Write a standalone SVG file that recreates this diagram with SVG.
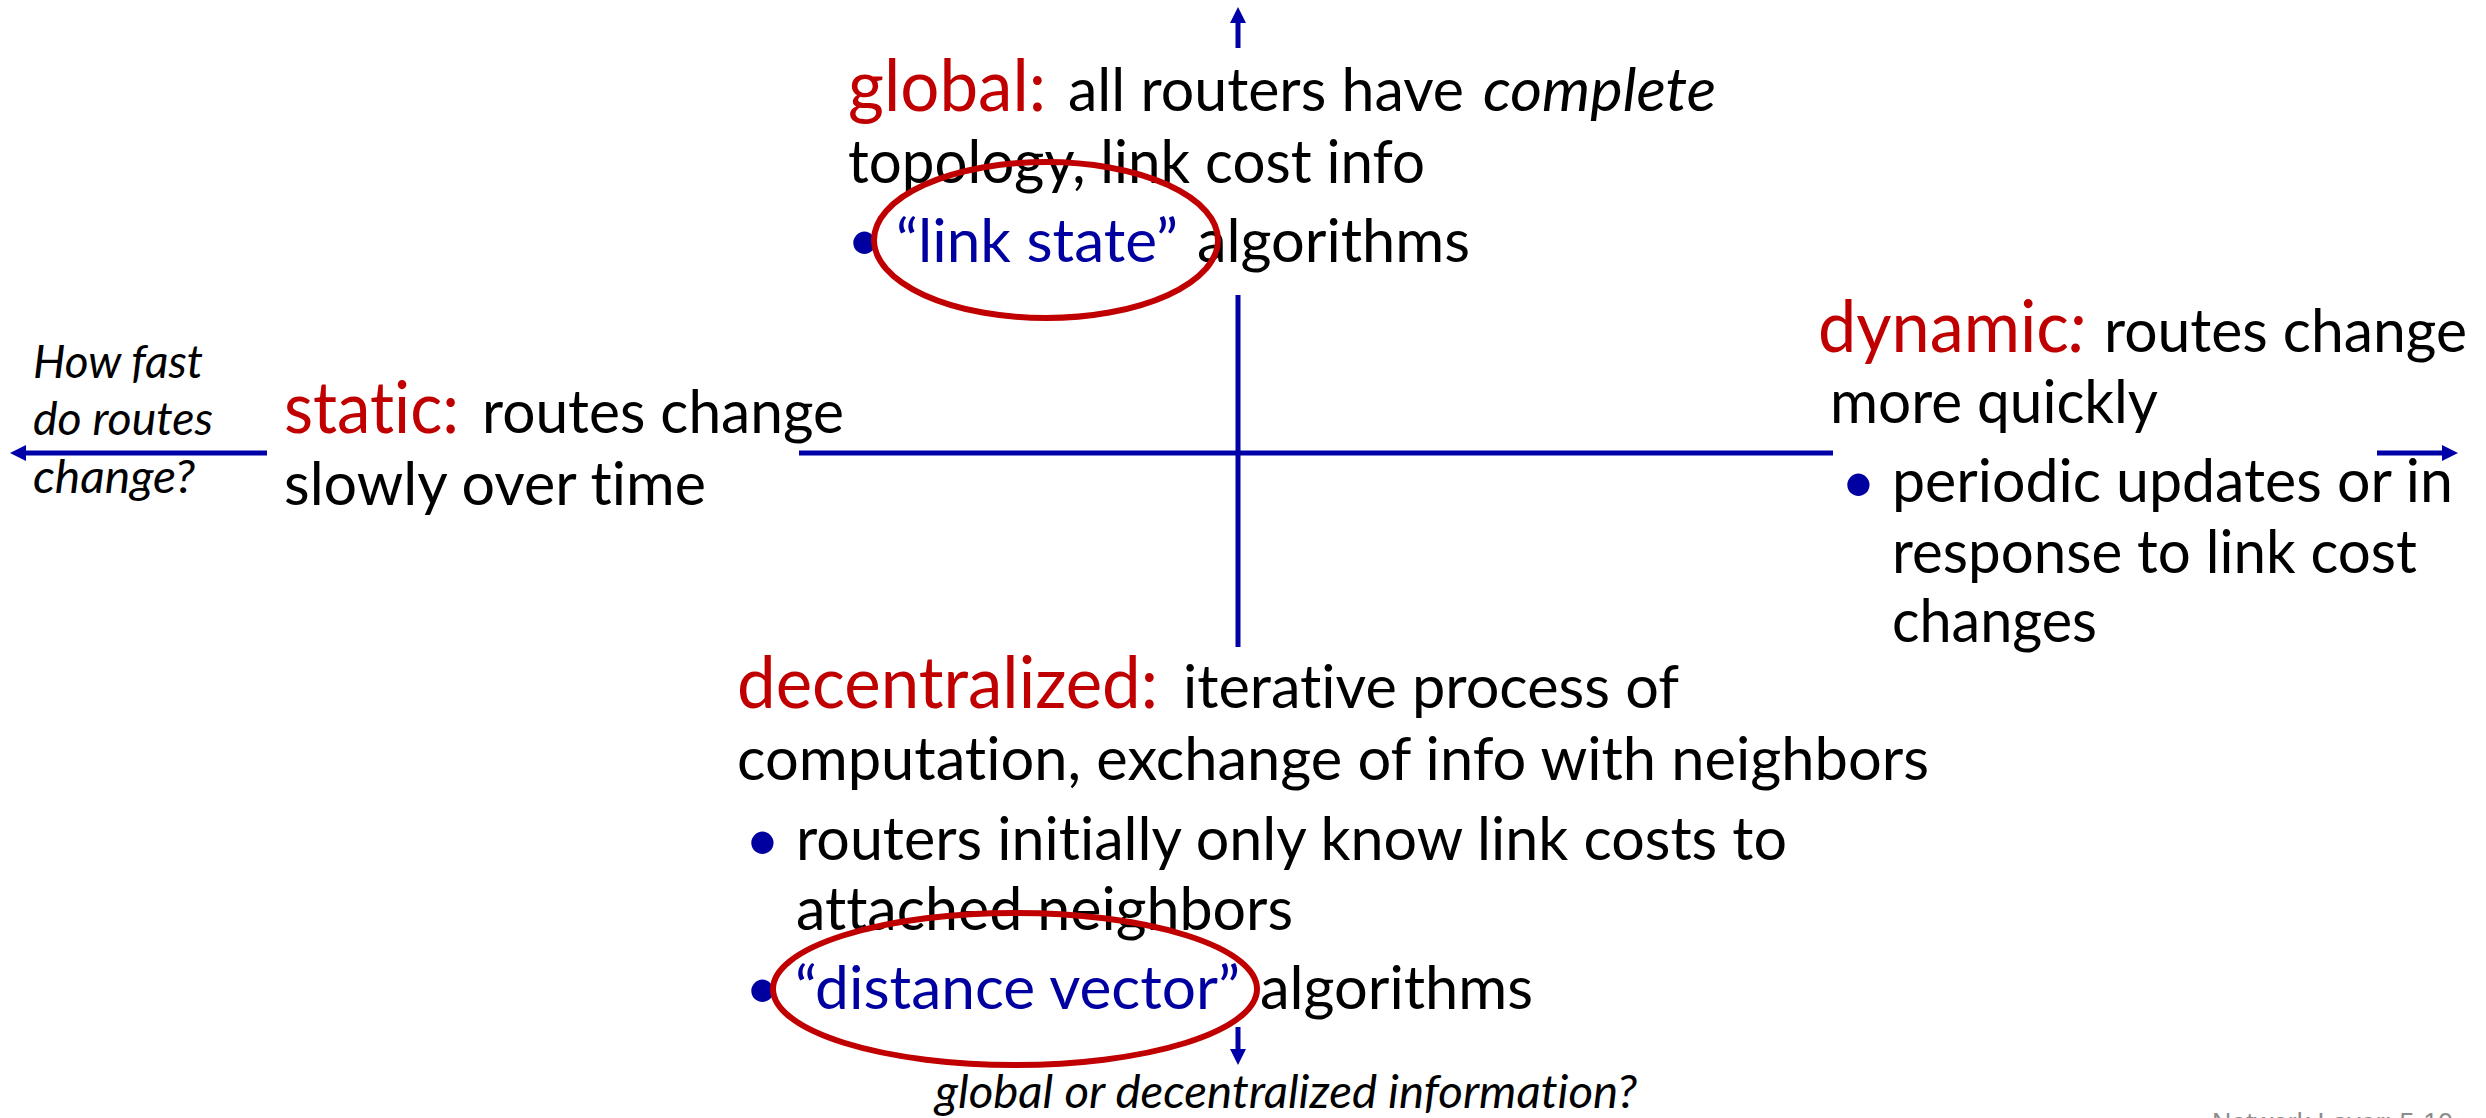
<svg xmlns="http://www.w3.org/2000/svg" width="2486" height="1118" viewBox="0 0 2486 1118">
<style>
text{font-family:Lato,"Open Sans","Liberation Sans",sans-serif;font-variant-ligatures:none;font-feature-settings:"liga" 0,"clig" 0}
.b{font-size:60px;fill:#000}
.r{font-size:71px;fill:#C00000}
.u{font-size:60px;fill:#0000A0}
.i{font-size:46px;fill:#000;font-style:italic}
.bul{font-size:60px;fill:#0000A0}
.ax{stroke:#0000A8;stroke-width:5;fill:none}
.ov{stroke:#C00000;stroke-width:6;fill:none}
.ft{font-family:"Liberation Sans",Arial,sans-serif;font-size:27px;fill:#8C8C8C}
</style>
<defs>
<marker id="ah" viewBox="0 0 16 16" markerWidth="16" markerHeight="16" refX="8" refY="8" orient="auto" markerUnits="userSpaceOnUse">
<path d="M0,0 L16,8 L0,16 z" fill="#0000A8"/>
</marker>
</defs>
<rect width="2486" height="1118" fill="#fff"/>
<g id="connectors">
<line class="ax" x1="799" y1="453" x2="1833" y2="453"/>
<line class="ax" x1="1238" y1="295" x2="1238" y2="647"/>
<line class="ax" x1="267" y1="453" x2="18" y2="453" marker-end="url(#ah)"/>
<line class="ax" x1="2377" y1="453" x2="2450" y2="453" marker-end="url(#ah)"/>
<line class="ax" x1="1238" y1="48" x2="1238" y2="15" marker-end="url(#ah)"/>
<line class="ax" x1="1238" y1="1027" x2="1238" y2="1057" marker-end="url(#ah)"/>
</g>
<g id="global">
<text class="r" x="848" y="111" textLength="198" lengthAdjust="spacingAndGlyphs">global:</text>
<text class="b" x="1068" y="111" textLength="396" lengthAdjust="spacingAndGlyphs">all routers have</text>
<text class="b" x="1483" y="111" font-style="italic" textLength="233" lengthAdjust="spacingAndGlyphs">complete</text>
<text class="b" x="848" y="183" textLength="577" lengthAdjust="spacingAndGlyphs">topology, link cost info</text>
<text class="bul" x="847" y="261">•</text>
<text class="u" x="896" y="262" textLength="282" lengthAdjust="spacingAndGlyphs">“link state”</text>
<text class="b" x="1197" y="262" textLength="273" lengthAdjust="spacingAndGlyphs">algorithms</text>
</g>
<g id="static">
<text class="r" x="284" y="433" textLength="175" lengthAdjust="spacingAndGlyphs">static:</text>
<text class="b" x="482" y="433" textLength="362" lengthAdjust="spacingAndGlyphs">routes change</text>
<text class="b" x="284" y="505" textLength="422" lengthAdjust="spacingAndGlyphs">slowly over time</text>
</g>
<g id="speed-label">
<text class="i" x="33" y="378" textLength="170" lengthAdjust="spacingAndGlyphs">How fast</text>
<text class="i" x="33" y="435" textLength="180" lengthAdjust="spacingAndGlyphs">do routes</text>
<text class="i" x="33" y="493" textLength="162" lengthAdjust="spacingAndGlyphs">change?</text>
</g>
<g id="dynamic">
<text class="r" x="1818" y="352" textLength="268" lengthAdjust="spacingAndGlyphs">dynamic<tspan font-style="italic">:</tspan></text>
<text class="b" x="2104" y="352" textLength="363" lengthAdjust="spacingAndGlyphs">routes change</text>
<text class="b" x="1830" y="423" textLength="328" lengthAdjust="spacingAndGlyphs">more quickly</text>
<text class="bul" x="1841" y="503">•</text>
<text class="b" x="1892" y="502" textLength="561" lengthAdjust="spacingAndGlyphs">periodic updates or in</text>
<text class="b" x="1892" y="573" textLength="525" lengthAdjust="spacingAndGlyphs">response to link cost</text>
<text class="b" x="1892" y="642" textLength="205" lengthAdjust="spacingAndGlyphs">changes</text>
</g>
<g id="decentralized">
<text class="r" x="737" y="708" textLength="421" lengthAdjust="spacingAndGlyphs">decentralized:</text>
<text class="b" x="1183" y="708" textLength="496" lengthAdjust="spacingAndGlyphs">iterative process of</text>
<text class="b" x="737" y="780" textLength="1192" lengthAdjust="spacingAndGlyphs">computation, exchange of info with neighbors</text>
<text class="bul" x="745" y="861">•</text>
<text class="b" x="796" y="860" textLength="991" lengthAdjust="spacingAndGlyphs">routers initially only know link costs to</text>
<text class="b" x="796" y="930" textLength="497" lengthAdjust="spacingAndGlyphs">attached neighbors</text>
<text class="bul" x="745" y="1009">•</text>
<text class="u" x="795" y="1009" textLength="445" lengthAdjust="spacingAndGlyphs">“distance vector”</text>
<text class="b" x="1260" y="1009" textLength="273" lengthAdjust="spacingAndGlyphs">algorithms</text>
</g>
<g id="info-label">
<text class="i" x="935" y="1108" textLength="702" lengthAdjust="spacingAndGlyphs">global or decentralized information?</text>
</g>
<g id="highlights">
<ellipse class="ov" cx="1046" cy="240" rx="172" ry="78"/>
<ellipse class="ov" cx="1015" cy="989" rx="242" ry="76"/>
</g>
<g id="footer">
<text class="ft" x="2212" y="1132" textLength="241" lengthAdjust="spacingAndGlyphs">Network Layer: 5-10</text>
</g>
</svg>
